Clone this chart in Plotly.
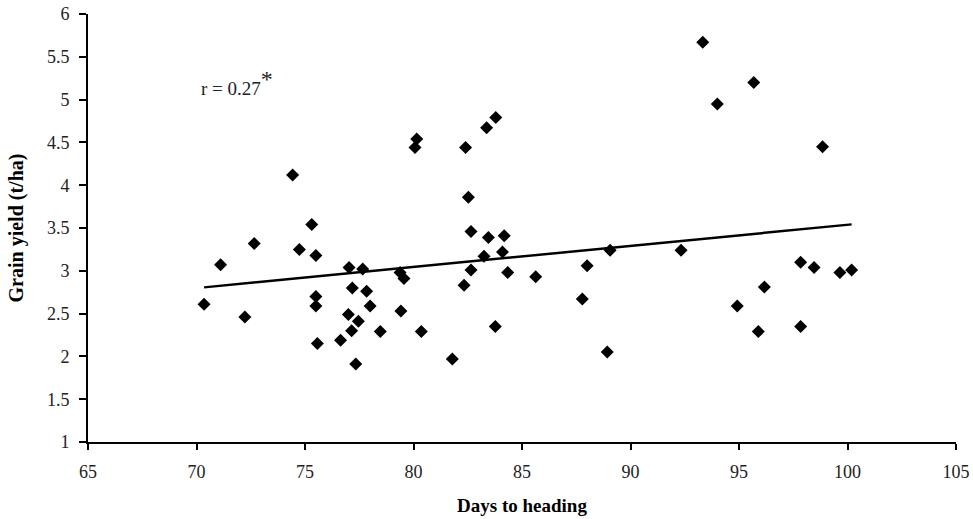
import numpy as np
import plotly.graph_objects as go

days_to_heading = [70.35, 71.11, 72.23, 72.66, 74.43, 74.74, 75.31, 75.5, 75.5, 75.5,
                   75.57, 77.03, 77.66, 77.18, 77.84, 78.0, 77.0, 77.46, 77.15, 76.64,
                   77.34, 78.47, 79.38, 79.56, 79.42, 80.36, 81.79, 82.33, 82.65, 83.25,
                   84.1, 84.34, 83.77, 85.63, 87.78, 88.0, 88.93, 89.06, 80.15, 80.07,
                   82.4, 83.37, 83.79, 82.53, 82.65, 83.45, 84.18, 92.33, 93.33, 95.68,
                   94.0, 98.85, 97.84, 98.46, 99.65, 100.19, 96.17, 94.92, 95.89, 97.84]
grain_yield = [2.61, 3.07, 2.46, 3.32, 4.12, 3.25, 3.54, 3.18, 2.70, 2.59,
               2.15, 3.04, 3.02, 2.80, 2.76, 2.59, 2.49, 2.41, 2.30, 2.19,
               1.91, 2.29, 2.98, 2.91, 2.53, 2.29, 1.97, 2.83, 3.01, 3.17,
               3.22, 2.98, 2.35, 2.93, 2.67, 3.06, 2.05, 3.24, 4.54, 4.44,
               4.44, 4.67, 4.79, 3.86, 3.46, 3.39, 3.41, 3.24, 5.67, 5.20,
               4.95, 4.45, 3.10, 3.04, 2.98, 3.01, 2.81, 2.59, 2.29, 2.35]
annotation_text = "r = 0.27"

x = np.array(days_to_heading)
y = np.array(grain_yield)
slope, intercept = np.polyfit(x, y, 1)
xl = np.array([x.min(), x.max()])
yl = slope * xl + intercept

fig = go.Figure()
fig.add_trace(go.Scatter(x=days_to_heading, y=grain_yield, mode="markers",
                         marker=dict(symbol="diamond", size=10, color="black"),
                         showlegend=False))
fig.add_trace(go.Scatter(x=xl, y=yl, mode="lines",
                         line=dict(color="black", width=2.5), showlegend=False))

font_serif = "Liberation Serif"
fig.update_layout(
    width=973, height=519,
    margin=dict(l=88, r=17, t=14, b=77, autoexpand=False),
    paper_bgcolor="white", plot_bgcolor="white",
    font=dict(family=font_serif, color="black", size=18),
    xaxis=dict(range=[65, 105], dtick=5, tick0=65, showline=True, linecolor="black",
               linewidth=2, ticks="outside", ticklen=6, tickwidth=2, tickcolor="black",
               showgrid=False, zeroline=False, ticklabelstandoff=6, automargin=False,
               tickfont=dict(family=font_serif, size=18, color="#222"),
               title=dict(text="<b>Days to heading</b>", standoff=18,
                          font=dict(family=font_serif, size=19, color="black"))),
    yaxis=dict(range=[1, 6], dtick=0.5, tick0=1, showline=True, linecolor="black",
               linewidth=2, ticks="outside", ticklen=7, tickwidth=2, tickcolor="black",
               showgrid=False, zeroline=False, ticklabelstandoff=6, automargin=False,
               tickfont=dict(family=font_serif, size=18, color="#222"),
               title=dict(text="<b>Grain yield (t/ha)</b>", standoff=18,
                          font=dict(family=font_serif, size=20, color="black"))),
)
fig.add_annotation(x=0.128, y=0.84, xref="paper", yref="paper",
                   text=annotation_text + "<sup><span style='font-size:24px'>*</span></sup>",
                   showarrow=False, xanchor="left", yanchor="middle",
                   font=dict(family=font_serif, size=19, color="#222"))

fig.write_html("out.html")
